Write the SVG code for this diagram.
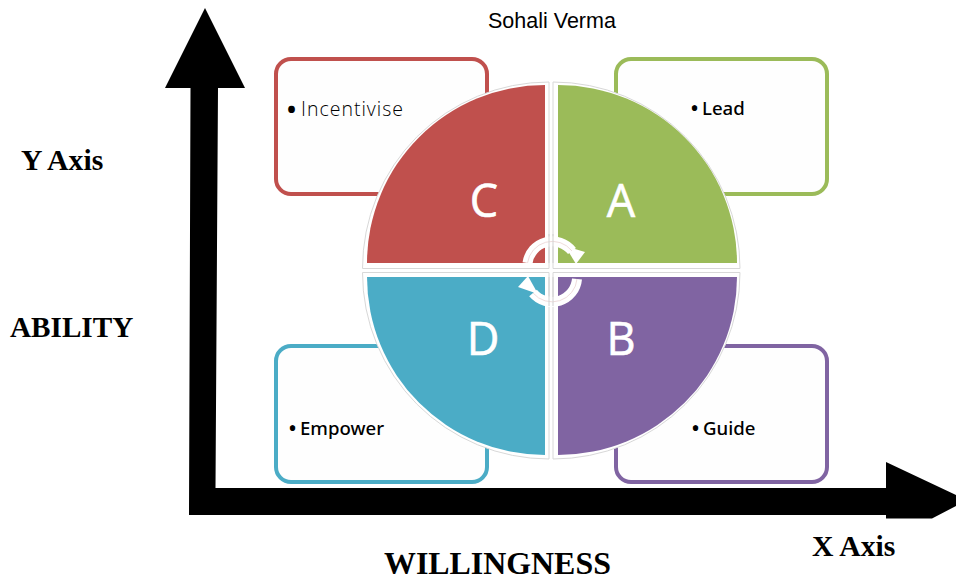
<svg xmlns="http://www.w3.org/2000/svg" width="956" height="582" viewBox="0 0 956 582">
<style>
.box{fill:#fefefe;stroke-width:4}
.halo{fill:#fff;stroke:#d8d8d8;stroke-width:1}
.big{font-family:"Open Sans","Noto Sans",sans-serif;font-size:45px;fill:#fff;text-anchor:middle;stroke:#fff;stroke-width:.6}
.item{font-family:"Noto Sans","Open Sans",sans-serif;font-size:18.600px;fill:#000}
.bul{font-size:24px}
.lab{font-family:"Liberation Serif",serif;font-weight:bold;font-size:29.700px;fill:#000}
.cyc{fill:none;stroke:#fff;stroke-width:10}
.cyc2{fill:none;stroke:#efdcdc;stroke-width:1}
.hair{fill:none;stroke:#d0d0d0;stroke-width:1}
</style>
<rect width="956" height="582" fill="#fff"/>
<g id="axes">
<polygon fill="#000" points="205,8 245,88 218,88 215.500,488 886,488 886,462 956,495 956,506 932,518.500 886,518.500 886,515 189,515 190.500,88 165,88"/>
</g>
<g id="node-c">
<rect class="box" x="276" y="59" width="211" height="135" rx="15" stroke="#c0504d"/>
<text class="item" x="287" y="116" style="font-family:'Open Sans',sans-serif;font-weight:300;font-size:19.500px;letter-spacing:1px"><tspan class="bul" dy="1.500" font-weight="700">•</tspan><tspan x="301" dy="-1.500">Incentivise</tspan></text>
<path class="halo" d="M549 268.500H362.500A186.500 186.500 0 0 1 549 82Z"/>
<path fill="#c0504d" d="M545 263H367A178 178 0 0 1 545 85Z"/>
<text class="big" x="484" y="217">C</text>
</g>
<g id="node-a">
<rect class="box" x="616" y="59" width="211" height="135" rx="15" stroke="#9bbb59"/>
<text class="item" x="690" y="115"><tspan class="bul" dy="1.500">•</tspan><tspan x="702" dy="-1.500" font-weight="500">Lead</tspan></text>
<path class="halo" d="M553 268.500H740A187 186.500 0 0 0 553 82Z"/>
<path fill="#9bbb59" d="M558 263H737A179 178 0 0 0 558 85Z"/>
<text class="big" x="621" y="217">A</text>
</g>
<g id="node-d">
<rect class="box" x="276" y="346" width="211" height="136" rx="15" stroke="#4bacc6"/>
<text class="item" x="288" y="435"><tspan class="bul" dy="1.500">•</tspan><tspan x="300" dy="-1.500" font-weight="500">Empower</tspan></text>
<path class="halo" d="M549 272.500H362.500A186.500 186.500 0 0 0 549 459Z"/>
<path fill="#4bacc6" d="M545 277H367A178 178 0 0 0 545 455Z"/>
<text class="big" x="483" y="355">D</text>
</g>
<g id="node-b">
<rect class="box" x="616" y="346" width="211" height="136" rx="15" stroke="#8064a2"/>
<text class="item" x="691" y="435"><tspan class="bul" dy="1.500">•</tspan><tspan x="703" dy="-1.500" font-weight="500">Guide</tspan></text>
<path class="halo" d="M553 272.500H740A187 186.500 0 0 1 553 459Z"/>
<path fill="#8064a2" d="M558 277H737A179 178 0 0 1 558 455Z"/>
<text class="big" x="621" y="355">B</text>
</g>
<g id="connectors">
<path class="cyc" d="M527.500 263A25 25 0 0 1 572 251"/>
<polygon fill="#fff" points="565,246 585,252 576,264"/>
<path class="cyc" d="M577 279A25 25 0 0 1 533 293"/>
<polygon fill="#fff" points="528,276 518,287 538,294"/>
<path class="cyc2" d="M527.500 263A25 25 0 0 1 572 251M577 279A25 25 0 0 1 533 293"/>
<path class="hair" d="M549 234V263M553 234V263M549 277V306M553 277V306"/>
</g>
<g id="labels">
<text x="488" y="28" font-family="Liberation Sans,sans-serif" font-size="21.500" fill="#000">Sohali Verma</text>
<text class="lab" x="21" y="170">Y Axis</text>
<text class="lab" x="10" y="337" style="font-size:29.200px">ABILITY</text>
<text class="lab" x="384" y="574" style="font-size:31.900px">WILLINGNESS</text>
<text class="lab" x="812" y="556">X Axis</text>
</g>
</svg>
